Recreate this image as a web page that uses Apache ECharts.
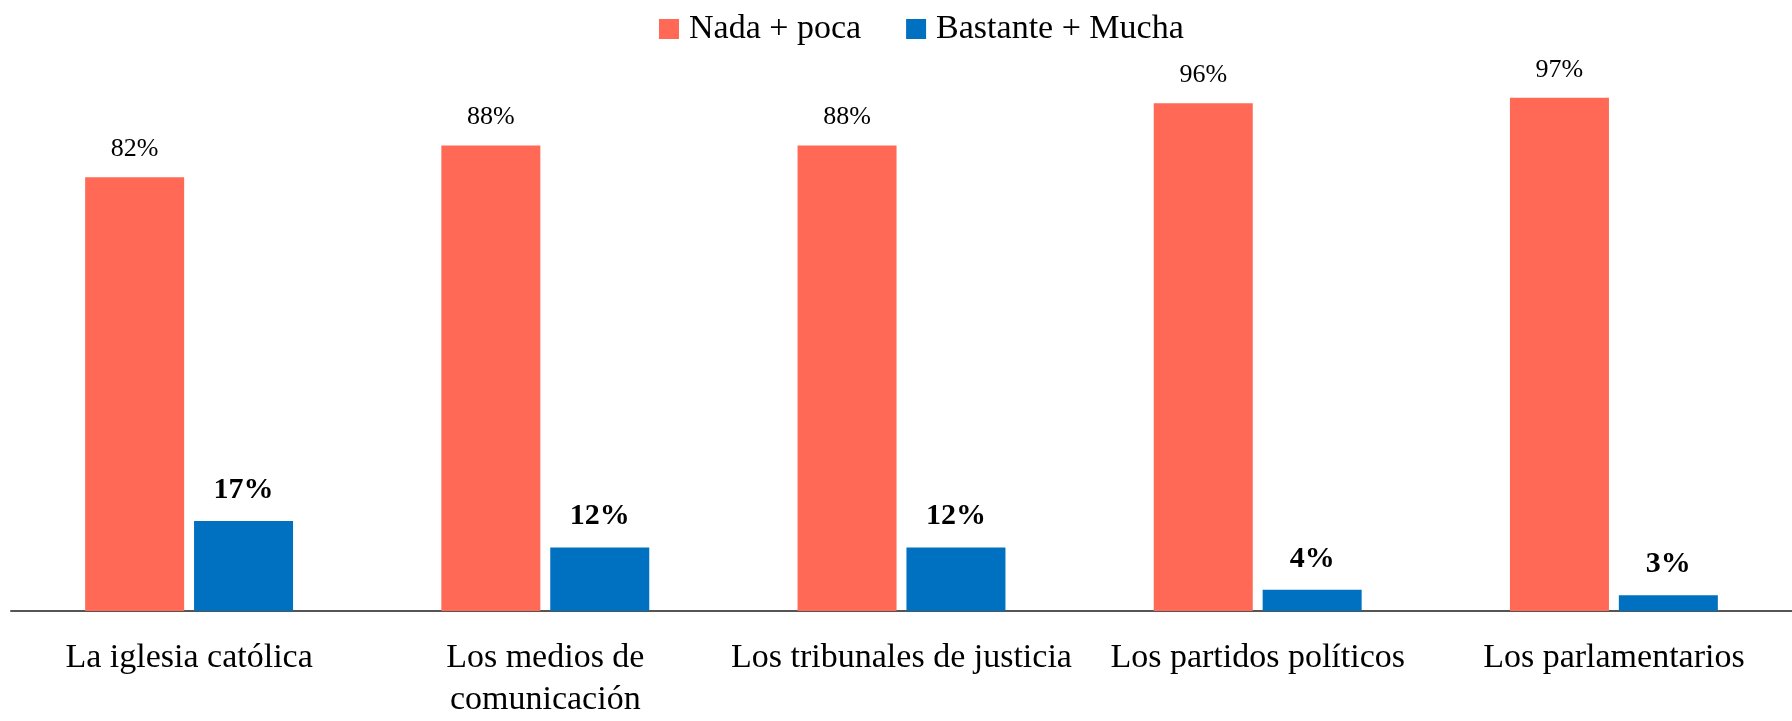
<!DOCTYPE html>
<html>
<head>
<meta charset="utf-8">
<script src="https://cdn.jsdelivr.net/npm/echarts@6/dist/echarts.min.js"></script>
<style>
  html, body { margin: 0; padding: 0; background: #fff; }
  #chart { width: 1792px; height: 721px; }
</style>
</head>
<body>
<div id="chart"></div>
<script>
const categories = [
  'La iglesia católica',
  'Los medios de\ncomunicación',
  'Los tribunales de justicia',
  'Los partidos políticos',
  'Los parlamentarios'
]
const nadaPoca = [82, 88, 88, 96, 97]
const bastanteMucha = [17, 12, 12, 4, 3]
const seriesNames = ['Nada + poca', 'Bastante + Mucha']

const font = '"Liberation Serif", "DejaVu Serif", serif'

const chart = echarts.init(document.getElementById('chart'))
chart.setOption({
  animation: false,
  textStyle: { fontFamily: font },
  legend: {
    top: 7,
    left: 654,
    itemWidth: 20,
    itemHeight: 20,
    itemGap: 45,
    icon: 'rect',
    textStyle: { fontFamily: font, fontSize: 34, color: '#000', padding: [0, 0, 0, 5] },
    data: seriesNames
  },
  grid: {
    left: 11,
    right: -9,
    top: 82,
    bottom: 104,
    containLabel: false
  },
  xAxis: {
    type: 'category',
    data: categories,
    axisLine: { lineStyle: { color: '#555', width: 2 } },
    axisTick: { show: false },
    axisLabel: {
      margin: 26,
      fontFamily: font,
      fontSize: 34,
      lineHeight: 42,
      color: '#000',
      interval: 0
    }
  },
  yAxis: {
    type: 'value',
    min: 0,
    max: 100,
    show: false
  },
  series: [
    {
      name: seriesNames[0],
      type: 'bar',
      data: nadaPoca,
      barWidth: 99,
      barGap: '10%',
      itemStyle: { color: '#FF6955' },
      label: {
        show: true,
        position: 'top',
        distance: 15,
        formatter: '{c}%',
        fontFamily: font,
        fontSize: 26,
        color: '#000'
      }
    },
    {
      name: seriesNames[1],
      type: 'bar',
      data: bastanteMucha,
      barWidth: 99,
      barGap: '10%',
      itemStyle: { color: '#0070C0' },
      label: {
        show: true,
        position: 'top',
        distance: 16,
        formatter: '{c}%',
        fontFamily: font,
        fontSize: 30,
        fontWeight: 'bold',
        color: '#000'
      }
    }
  ]
})
window.addEventListener('resize', () => chart.resize())
</script>
</body>
</html>
